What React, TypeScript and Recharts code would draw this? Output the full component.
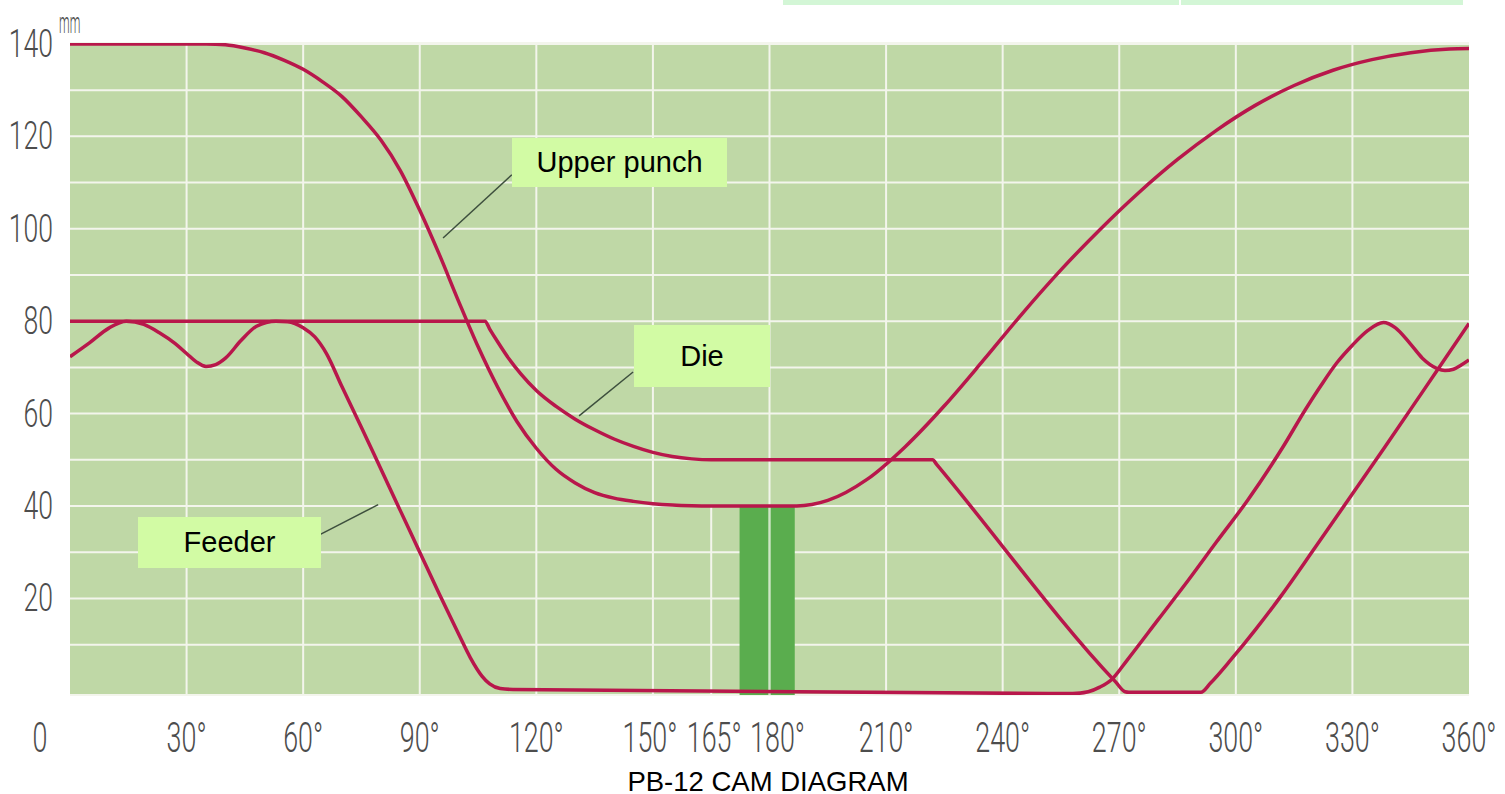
import React from 'react';
import { LineChart, Line, XAxis, YAxis, CartesianGrid, ReferenceLine, ReferenceArea } from 'recharts';

// cam angle (deg) vs stroke (mm)
const upperPunch: [number, number][] = [
  [0, 140], [30, 140], [35, 140], [40, 139.8], [45, 139.1], [50, 138.1], [55, 136.5],
  [60, 134.5], [65, 131.8], [70, 128.6], [75, 124.2], [80, 119.2], [85, 112.6], [90, 104],
  [95, 94.5], [100, 84.3], [105, 74.5], [110, 65.8], [115, 58.3], [120, 52.5], [125, 48],
  [130, 45], [135, 42.9], [140, 41.7], [145, 41], [150, 40.5], [155, 40.2], [160, 40.05],
  [165, 40], [187, 40], [195, 41.2], [205, 45.7], [215, 52.9], [225, 61.7], [235, 71.5],
  [245, 81.6], [255, 91.1], [265, 99.8], [275, 107.8], [285, 115], [295, 121.3], [305, 126.7],
  [315, 131], [325, 134.3], [335, 136.6], [345, 138.1], [355, 138.9], [360, 139],
];

const die: [number, number][] = [
  [0, 80], [106.8, 80], [108, 78.3], [110, 75.6], [113, 71.8], [116, 68.6], [120, 65],
  [125, 61.6], [130, 58.8], [135, 56.5], [140, 54.5], [145, 52.9], [150, 51.6], [155, 50.7],
  [160, 50.2], [165, 50], [222, 50], [223, 49], [269, 2], [271.5, -0.2], [272.5, -0.3],
  [291, -0.3], [293.5, 1.7], [298.9, 6.9], [305, 13.2], [311.7, 20.6], [320.4, 31],
  [338.4, 52.8], [352, 69.6], [360, 79.5],
];

const feeder: [number, number][] = [
  [0, 72.3], [5, 75.3], [10, 78.5], [14.5, 80], [19, 79.3], [23, 77.5], [27, 75.2], [30, 73],
  [32.5, 71.2], [35, 70.2], [37.5, 70.6], [40, 72], [44, 75.8], [48, 78.9], [53, 80],
  [56, 79.9], [60, 78.6], [63, 76.6], [66, 73], [70, 65.8], [75, 57], [80, 48], [85, 39],
  [90, 30], [95, 21], [100, 12.3], [103, 7.2], [106, 3.2], [108, 1.5], [110.7, 0.5],
  [114, 0.3], [258, -0.6], [262, -0.2], [265, 0.8], [268, 2.4], [272, 6.6], [280, 15.4],
  [288, 24.2], [295, 32.2], [303, 41.2], [312, 52.6], [318, 61], [322, 66.2], [326, 71],
  [330, 74.8], [334, 78], [338, 79.7], [341, 78.6], [344.8, 75.2], [348, 72], [351.7, 69.8],
  [353.8, 69.3], [356, 69.6], [358, 70.5], [360, 71.6],
];

const xTicks = [0, 30, 60, 90, 120, 150, 165, 180, 210, 240, 270, 300, 330, 360];
const xGrid = [30, 60, 90, 120, 150, 180, 210, 240, 270, 300, 330];
const yTicks = [10, 20, 30, 40, 50, 60, 70, 80, 90, 100, 110, 120, 130, 140];

// dwell window (dark band) and its mm height
const dwell = { from: 172.3, to: 186.5, top: 40 };

// leader lines: [curve point, label point]
const leaderUpper: [number, number][] = [[96, 98], [113.7, 111.7]];
const leaderDie: [number, number][] = [[131, 59.5], [144.9, 69]];
const leaderFeeder: [number, number][] = [[64.3, 33.8], [79.3, 40.3]];

const toRows = (pts: [number, number][]) => pts.map(([deg, mm]) => ({ deg, mm }));

const RED = '#b8174b';
const GRID = '#f3f5ec';
const TICK_FONT = 'Roboto, "Liberation Sans", sans-serif';

// small spread so 150/165/180 don't collide
const labelShift: Record<number, number> = { 150: -3, 165: 3, 180: 8 };

const XTick = (props: any) => {
  const { x, y, payload } = props;
  const v = payload.value;
  const dx = v === 0 ? -30 : labelShift[v] ?? 0;
  const label = v === 0 ? '0' : `${v}°`;
  return (
    <text
      transform={`translate(${x + dx},${y + 57}) scale(0.64,1)`}
      textAnchor="middle"
      fontFamily={TICK_FONT}
      fontWeight={300}
      fontSize={42}
      fill="#4d4d4d"
    >
      {label}
    </text>
  );
};

const YTick = (props: any) => {
  const { x, y, payload } = props;
  const v = payload.value;
  if (v % 20 !== 0) return <g />;
  return (
    <g>
      <text
        transform={`translate(${x - 17},${y + 13}) scale(0.7,1)`}
        textAnchor="end"
        fontFamily={TICK_FONT}
        fontWeight={300}
        fontSize={38}
        fill="#4d4d4d"
      >
        {v}
      </text>
      {v === 140 && (
        <text
          transform={`translate(${x - 11},${y - 11}) scale(0.4,1)`}
          fontFamily={TICK_FONT}
          fontWeight={300}
          fontSize={30}
          fill="#4d4d4d"
        >
          mm
        </text>
      )}
    </g>
  );
};

const boxStyle: React.CSSProperties = {
  position: 'absolute',
  background: '#d2fba4',
  display: 'flex',
  alignItems: 'center',
  justifyContent: 'center',
  fontFamily: '"Liberation Sans", Arial, sans-serif',
  fontSize: 29,
  color: '#000',
};

export default function App() {
  return (
    <div style={{ position: 'absolute', left: 0, top: 0, width: 1505, height: 794, background: '#fff' }}>
      <div style={{ position: 'absolute', left: 783, top: 0, width: 396, height: 5, background: '#d3f6d6' }} />
      <div style={{ position: 'absolute', left: 1181, top: 0, width: 282, height: 5, background: '#d3f6d6' }} />

      <LineChart width={1505} height={794} margin={{ top: 43, right: 36, bottom: 0, left: 0 }}>
        <CartesianGrid fill="#bfd8a6" fillOpacity={1} vertical={false} stroke={GRID} strokeWidth={2} />
        <XAxis
          type="number"
          dataKey="deg"
          domain={[0, 360]}
          ticks={xTicks}
          allowDataOverflow
          axisLine={false}
          tickLine={false}
          tickSize={0}
          tickMargin={0}
          height={99}
          interval={0}
          tick={<XTick />}
        />
        <YAxis
          type="number"
          dataKey="mm"
          domain={[-0.9, 140.2]}
          ticks={yTicks}
          allowDataOverflow
          axisLine={false}
          tickLine={false}
          tickSize={0}
          tickMargin={0}
          width={70}
          interval={0}
          tick={<YTick />}
        />
        {xGrid.map((d) => (
          <ReferenceLine key={d} x={d} stroke={GRID} strokeWidth={2} />
        ))}
        <ReferenceLine segment={[{ x: 165, y: -0.9 }, { x: 165, y: dwell.top }]} stroke={GRID} strokeWidth={2} />
        <ReferenceArea
          x1={dwell.from}
          x2={dwell.to}
          y1={-0.9}
          y2={dwell.top}
          fill="#5aad4e"
          fillOpacity={1}
          stroke="none"
        />
        <ReferenceLine
          segment={[{ x: 180, y: -0.9 }, { x: 180, y: dwell.top }]}
          stroke="#b7dcae"
          strokeOpacity={0.6}
          strokeWidth={2}
        />
        {[leaderUpper, leaderDie, leaderFeeder].map((seg, i) => (
          <ReferenceLine
            key={`ld${i}`}
            segment={seg.map(([x, y]) => ({ x, y }))}
            stroke="#3d4f3d"
            strokeWidth={1.5}
          />
        ))}
        <Line
          data={toRows(upperPunch)}
          dataKey="mm"
          type="monotone"
          stroke={RED}
          strokeWidth={3.5}
          dot={false}
          activeDot={false}
          isAnimationActive={false}
        />
        <Line
          data={toRows(die)}
          dataKey="mm"
          type="monotone"
          stroke={RED}
          strokeWidth={3.5}
          strokeLinejoin="round"
          dot={false}
          activeDot={false}
          isAnimationActive={false}
        />
        <Line
          data={toRows(feeder)}
          dataKey="mm"
          type="monotone"
          stroke={RED}
          strokeWidth={3.5}
          dot={false}
          activeDot={false}
          isAnimationActive={false}
        />
      </LineChart>

      <div style={{ ...boxStyle, left: 512, top: 138, width: 215, height: 49 }}>Upper punch</div>
      <div style={{ ...boxStyle, left: 634, top: 325, width: 136, height: 62 }}>Die</div>
      <div style={{ ...boxStyle, left: 138, top: 517, width: 183, height: 51 }}>Feeder</div>

      <div
        style={{
          position: 'absolute',
          left: 518,
          top: 768,
          width: 500,
          textAlign: 'center',
          fontFamily: '"Liberation Sans", Arial, sans-serif',
          fontSize: 27.5,
          lineHeight: '27px',
          color: '#000',
        }}
      >
        PB-12 CAM DIAGRAM
      </div>
    </div>
  );
}
